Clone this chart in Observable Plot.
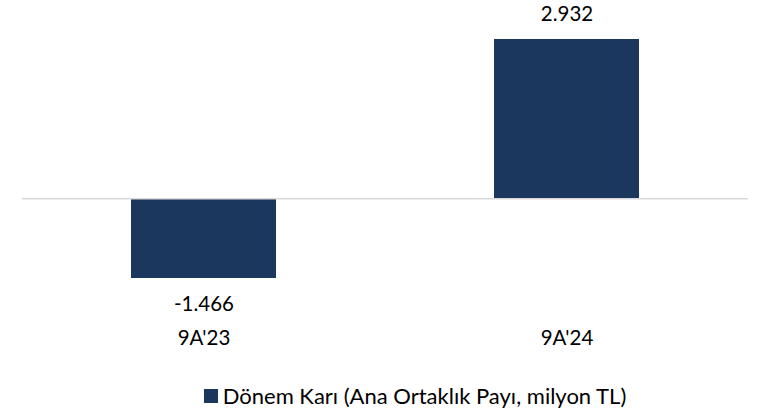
<!DOCTYPE html>
<html><head><meta charset="utf-8">
<script src="https://cdn.jsdelivr.net/npm/d3@7"></script>
<script src="https://cdn.jsdelivr.net/npm/@observablehq/plot@0.6"></script>
<style>
body{margin:0;background:#fff;font-family:Lato,sans-serif;}
#chart svg{display:block;}
#legend{height:32px;padding-top:8px;padding-left:72px;display:flex;justify-content:center;align-items:center;font-size:22px;color:#000;line-height:1;}
#legend .sw{width:14px;height:14px;background:#1c375e;margin-right:5px;flex:none;}
</style></head><body>
<div id="chart"></div>
<div id="legend"><span class="sw"></span><span id="legtext"></span></div>
<script>
const categories = ["9A'23", "9A'24"];
const values = [-1.466, 2.932];
const labels = ["-1.466", "2.932"];
const seriesName = "Dönem Karı (Ana Ortaklık Payı, milyon TL)";
const data = categories.map((c, i) => ({cat: c, v: values[i], lab: labels[i]}));
const color = "#1c375e";
document.getElementById("legtext").textContent = seriesName;
const chart = Plot.plot({
  width: 758, height: 372,
  marginLeft: 22, marginRight: 10, marginTop: 39, marginBottom: 94,
  style: {fontFamily: "Lato, sans-serif", fontSize: "20.5px", color: "#000", background: "#fff"},
  x: {domain: categories, paddingInner: 0.6, paddingOuter: 0.3, label: null, tickSize: 0, tickPadding: 52},
  y: {domain: [-1.466, 2.932], axis: null},
  marks: [
    Plot.barY(data, {x: "cat", y: "v", fill: color}),
    Plot.ruleY([0], {stroke: "#d9d9d9", strokeWidth: 1.5}),
    Plot.text(data.filter(d => d.v >= 0), {x: "cat", y: "v", text: "lab", dy: -25, fill: "#000"}),
    Plot.text(data.filter(d => d.v < 0), {x: "cat", y: "v", text: "lab", dy: 26, fill: "#000"})
  ]
});
document.getElementById("chart").appendChild(chart);
</script>
</body></html>
